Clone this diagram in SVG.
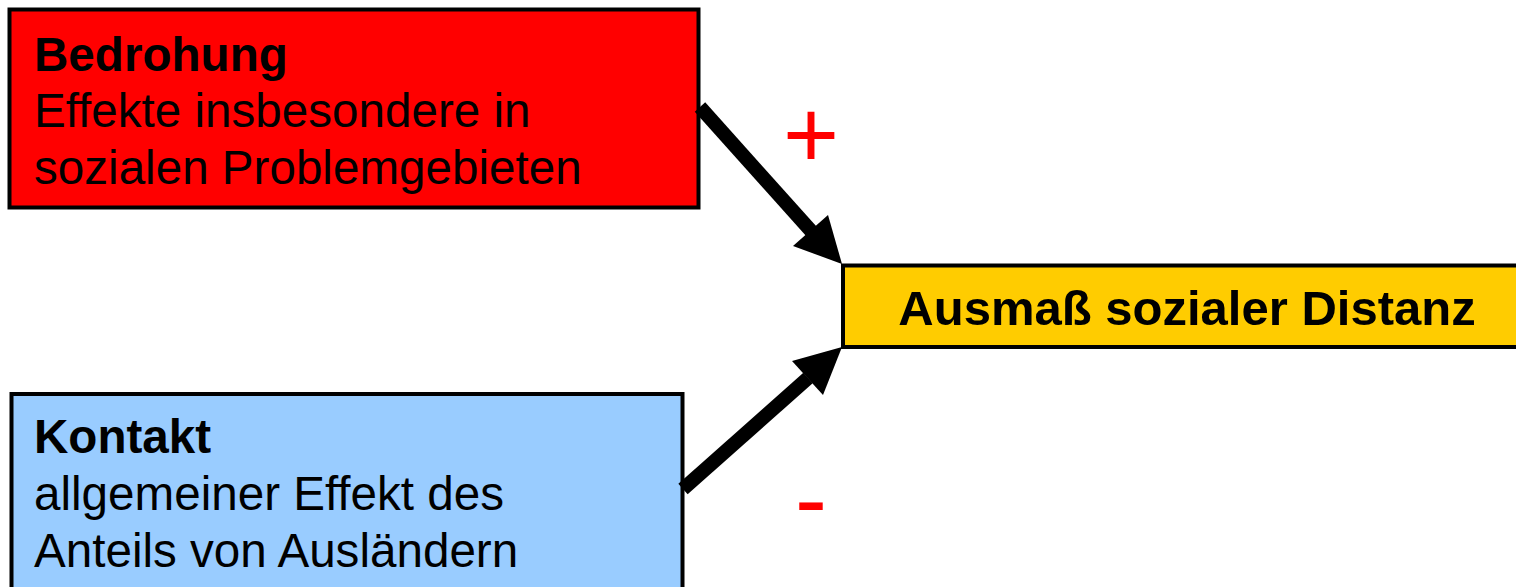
<svg xmlns="http://www.w3.org/2000/svg" width="1516" height="587" viewBox="0 0 1516 587">
<style>
.box{stroke:#000;stroke-width:4}
.t{font-family:"Liberation Sans",Arial,sans-serif;font-size:47.6px;fill:#000}
.b{font-weight:bold}
.sign{font-family:"Liberation Sans",Arial,sans-serif;font-size:96px;fill:#FF0000;text-anchor:middle}
.shaft{stroke:#000;stroke-width:14;fill:none}
</style>
<rect width="1516" height="587" fill="#fff"/>
<g id="bedrohung">
<rect class="box" x="9.5" y="9.5" width="689" height="198" fill="#FF0000"/>
<text class="t" x="34" y="71"><tspan class="b">Bedrohung</tspan><tspan x="34" y="127">Effekte insbesondere in</tspan><tspan x="34" y="184">sozialen Problemgebieten</tspan></text>
</g>
<g id="kontakt">
<rect class="box" x="11.5" y="394" width="671" height="220" fill="#99CCFF"/>
<text class="t" x="34" y="453"><tspan class="b">Kontakt</tspan><tspan x="34" y="510">allgemeiner Effekt des</tspan><tspan x="34" y="567">Anteils von Ausländern</tspan></text>
</g>
<g id="distanz">
<rect class="box" x="843" y="265.5" width="680" height="81.5" fill="#FFCC00"/>
<text class="t b" x="1187" y="325" text-anchor="middle" style="font-size:49px">Ausmaß sozialer Distanz</text>
</g>
<g id="connectors">
<line class="shaft" x1="700" y1="107" x2="812" y2="232"/>
<polygon points="842,264 793,246 828,215" fill="#000"/>
<line class="shaft" x1="683" y1="489" x2="808" y2="378"/>
<polygon points="842,347 792,361 823,395" fill="#000"/>
</g>
<g id="labels">
<text class="sign" x="811" y="168">+</text>
<text class="sign" x="811" y="532">-</text>
</g>
</svg>
